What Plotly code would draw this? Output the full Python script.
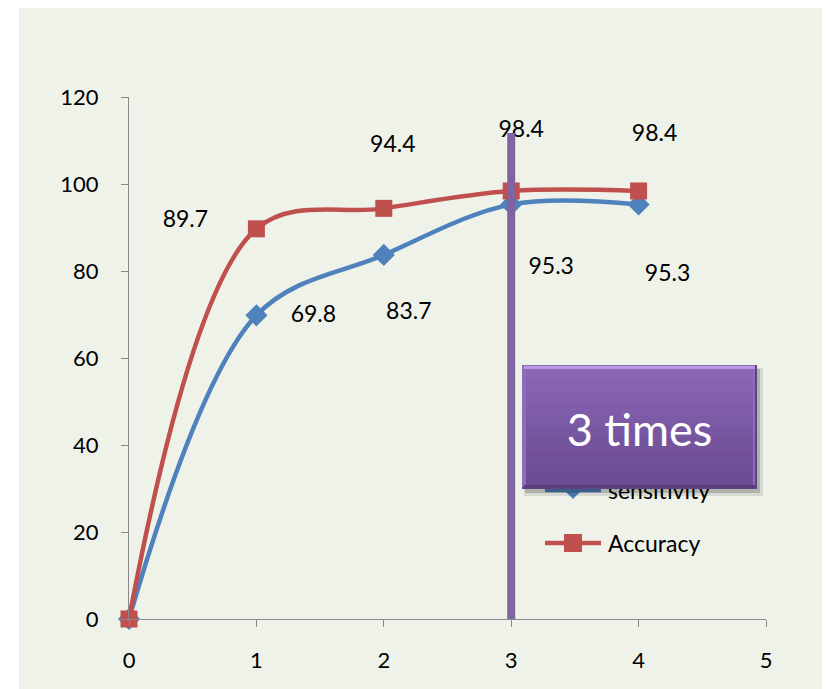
import plotly.graph_objects as go

# ---- data ----
x_vals = [0, 1, 2, 3, 4]
sensitivity = [0, 69.8, 83.7, 95.3, 95.3]
accuracy = [0, 89.7, 94.4, 98.4, 98.4]
sens_labels = ["0", "69.8", "83.7", "95.3", "95.3"]
acc_labels = ["0", "89.7", "94.4", "98.4", "98.4"]
series_names = ["sensitivity", "Accuracy"]
x_ticks = [0, 1, 2, 3, 4, 5]
y_ticks = [0, 20, 40, 60, 80, 100, 120]
marker_x = 3
box_text = "3 times"

# ---- style / layout ----
OFF = 8  # page body margin
W, H = 830 - OFF, 689 - OFF
PL, PR, PT, PB = 129, 766, 97, 619  # plot area in window pixels
ML, MR, MT, MB = PL - OFF, 830 - PR, PT - OFF, 689 - PB
XR = [0, 5]
YR = [0, 120]
PW = PR - PL
PH = PB - PT
px_x = PW / (XR[1] - XR[0])
px_y = PH / (YR[1] - YR[0])

BLUE = "#4F81BD"
RED = "#C0504D"
PURPLE = "#8064A2"
BG = "#EEF2E9"
AX = "#898989"
FONT = "Lato"
SMOOTH = 1.0

# label offsets in pixels (dx right, dy down)
acc_off = [(33, 2), (-71, -8), (9, -62), (10, -60), (16, -56)]
sens_off = [(33, 2), (57, 1), (25, 58), (40, 64), (29, 71)]


def lab_pos(xs, ys, offs):
    lx = [x + dx / px_x for x, (dx, dy) in zip(xs, offs)]
    ly = [y - dy / px_y for y, (dx, dy) in zip(ys, offs)]
    return lx, ly


def px2paper(px, py):
    return (px - PL) / PW, (PB - py) / PH


fig = go.Figure()

fig.add_trace(go.Scatter(
    x=x_vals, y=sensitivity, name=series_names[0], mode="lines+markers",
    line=dict(color=BLUE, width=4.5, shape="spline", smoothing=SMOOTH),
    marker=dict(symbol="diamond", size=17, color=BLUE),
    cliponaxis=False, showlegend=False))
fig.add_trace(go.Scatter(
    x=x_vals, y=accuracy, name=series_names[1], mode="lines+markers",
    line=dict(color=RED, width=4.5, shape="spline", smoothing=SMOOTH),
    marker=dict(symbol="square", size=17, color=RED),
    cliponaxis=False, showlegend=False))

for ys, labs, offs in [(sensitivity, sens_labels, sens_off), (accuracy, acc_labels, acc_off)]:
    lx, ly = lab_pos(x_vals, ys, offs)
    fig.add_trace(go.Scatter(
        x=lx, y=ly, text=labs, mode="text", textposition="middle center",
        textfont=dict(family=FONT, size=23, color="black"),
        cliponaxis=False, showlegend=False, hoverinfo="skip"))

shapes = []
bx0, by1 = px2paper(19, 5)
bx1, by0 = px2paper(840, 700)
shapes.append(dict(type="rect", xref="paper", yref="paper",
                   x0=bx0, x1=bx1, y0=by0, y1=by1,
                   fillcolor=BG, line=dict(width=0), layer="below"))
# vertical purple marker line
shapes.append(dict(type="line", xref="x", yref="y", x0=marker_x, x1=marker_x,
                   y0=(PB - 627) / px_y, y1=(PB - 133) / px_y,
                   line=dict(color=PURPLE, width=8), layer="above"))

# manual legend
leg_items = [(series_names[0], BLUE, "diamond", 490), (series_names[1], RED, "square", 543)]
annotations = []
for name, col, sym, py in leg_items:
    xa, ya = px2paper(545, py)
    xb, _ = px2paper(601, py)
    shapes.append(dict(type="line", xref="paper", yref="paper", x0=xa, x1=xb, y0=ya, y1=ya,
                       line=dict(color=col, width=4.5), layer="above"))
    cx, cy = px2paper(573, py)
    s = 9
    if sym == "square":
        shapes.append(dict(type="rect", xref="paper", yref="paper",
                           x0=cx - s / PW, x1=cx + s / PW, y0=cy - s / PH, y1=cy + s / PH,
                           fillcolor=col, line=dict(width=0), layer="above"))
    else:
        path = (f"M {cx - s / PW},{cy} L {cx},{cy + s / PH} L {cx + s / PW},{cy} "
                f"L {cx},{cy - s / PH} Z")
        shapes.append(dict(type="path", xref="paper", yref="paper", path=path,
                           fillcolor=col, line=dict(width=0), layer="above"))
    tx, ty = px2paper(606, py)
    annotations.append(dict(xref="paper", yref="paper", x=tx, y=ty, xanchor="left",
                            yanchor="middle", text=name, showarrow=False,
                            font=dict(family=FONT, size=23, color="black")))

# "3 times" bevelled gradient box (drawn after legend text so it covers it)
bx, by = px2paper(639.5, 427)
BW, BH = 235, 124


def box(w, h, xs, ys, col, txt="", size=10):
    annotations.append(dict(xref="paper", yref="paper", x=bx, y=by, xanchor="center",
                            yanchor="middle", xshift=xs, yshift=ys,
                            text=txt if txt else "&nbsp;", showarrow=False,
                            width=w, height=h, bgcolor=col, borderpad=0, borderwidth=0,
                            align="center", valign="middle",
                            font=dict(family=FONT, size=size, color="white")))


box(BW + 4, BH + 4, 4, -5, "rgba(0,0,0,0.10)")
box(BW, BH, 3, -4, "rgba(0,0,0,0.18)")
box(BW, BH, 0, 0, "#5E4380")
box(BW - 2, BH - 2, -1, 1, "#8E6CBC")
grad = ["#8A66B7", "#8662B3", "#8360AF", "#7F5DAA", "#7B5AA6", "#7857A2",
        "#75549E", "#72519A", "#6F4F97", "#6C4C93"]
inner_w = BW - 8
inner_h = BH - 8
sh = inner_h / len(grad)
for i, c in enumerate(grad):
    yc = inner_h / 2 - sh * (i + 0.5)
    box(inner_w, sh + 1, 0, yc, c)
box(BW - 4, 3, 0, BH / 2 - 2.5, "#B796E2")
box(BW - 4, 3, 0, -BH / 2 + 2.5, "#5A3D7A")
box(inner_w, inner_h, 0, -2, "rgba(0,0,0,0)", box_text, 45)

fig.update_layout(
    width=W, height=H, autosize=False,
    margin=dict(l=ML, r=MR, t=MT, b=MB, pad=0),
    paper_bgcolor="white", plot_bgcolor="rgba(0,0,0,0)",
    shapes=shapes, annotations=annotations,
    xaxis=dict(range=XR, tickvals=x_ticks, showline=True, linecolor=AX, linewidth=1.3,
               ticks="outside", ticklen=7, tickcolor=AX, tickwidth=1.3,
               showgrid=False, zeroline=False, ticklabelstandoff=14,
               tickfont=dict(family=FONT, size=22, color="black")),
    yaxis=dict(range=YR, tickvals=y_ticks, showline=True, linecolor=AX, linewidth=1.3,
               ticks="outside", ticklen=7, tickcolor=AX, tickwidth=1.3,
               showgrid=False, zeroline=False, ticklabelstandoff=18,
               tickfont=dict(family=FONT, size=22, color="black")),
    showlegend=False,
)

fig.write_html("out.html")
